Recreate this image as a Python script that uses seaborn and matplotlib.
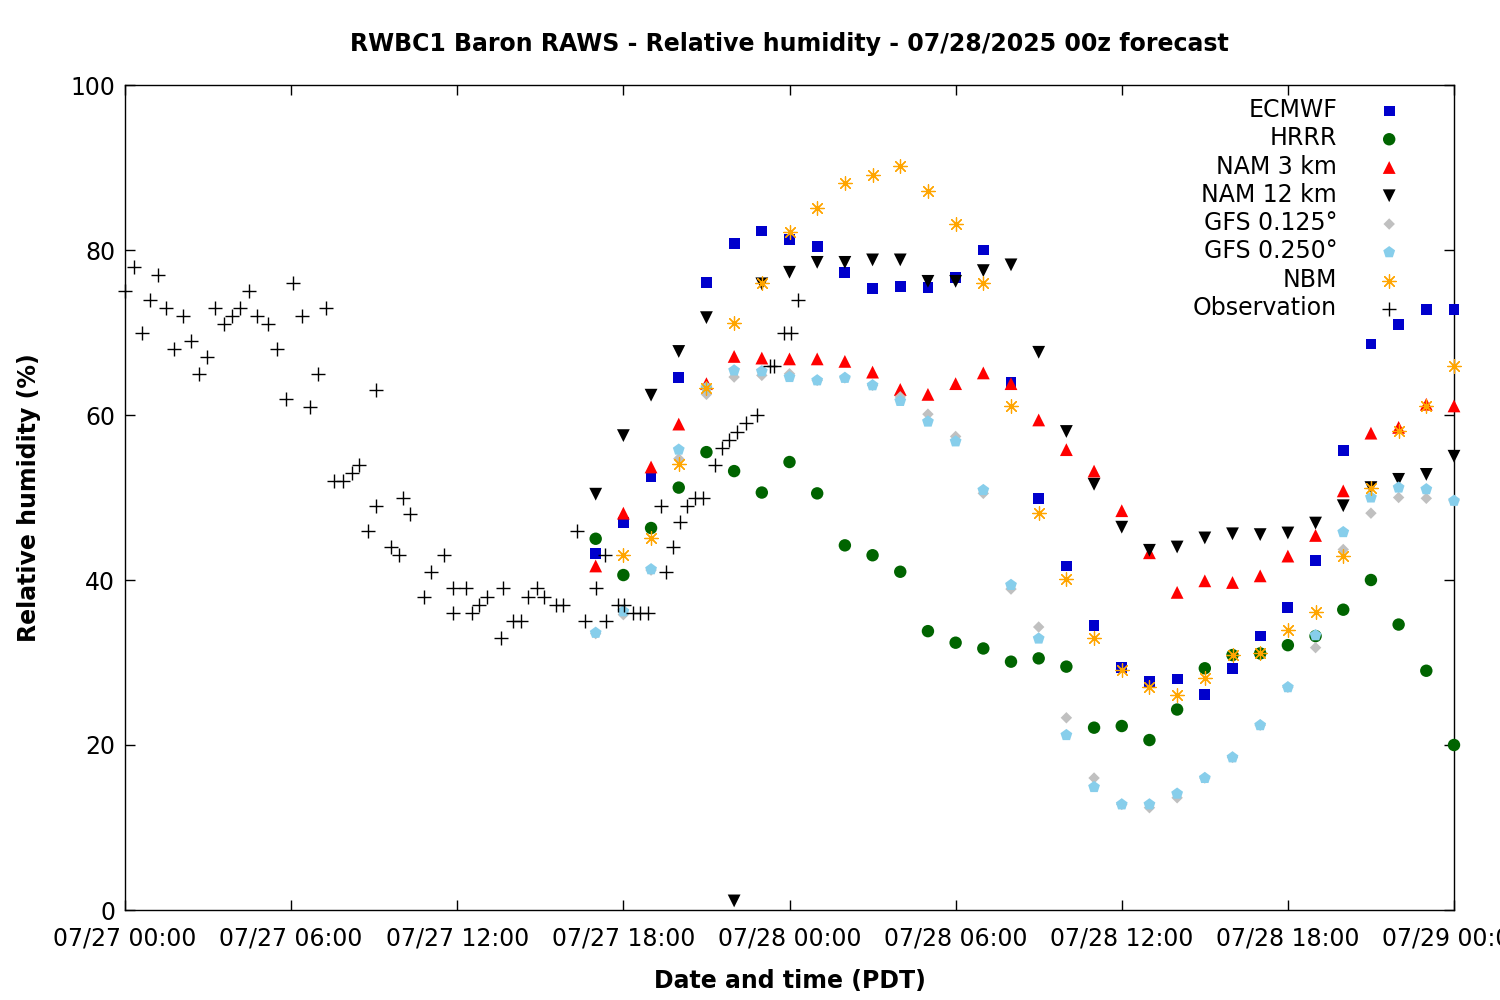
import numpy as np
import pandas as pd
import matplotlib
matplotlib.use("Agg")
import matplotlib.pyplot as plt
import matplotlib.dates as mdates
import seaborn as sns

# ---------------- data ----------------
start = pd.Timestamp("2025-07-27 00:00")
model_hours = list(range(17, 49))          # hours after 07/27 00:00 PDT
nbm_hours = list(range(18, 49))

ecmwf = [43.2, 47.0, 52.5, 64.5, 76.1, 80.8, 82.3, 81.3, 80.4, 77.3, 75.3, 75.6,
         75.5, 76.7, 80.0, 63.9, 49.9, 41.7, 34.5, 29.4, 27.7, 28.0, 26.1, 29.3,
         33.2, 36.7, 42.4, 55.7, 68.6, 71.0, 72.8, 72.8]
hrrr = [45.0, 40.6, 46.3, 51.2, 55.5, 53.2, 50.6, 54.3, 50.5, 44.2, 43.0, 41.0,
        33.8, 32.4, 31.7, 30.1, 30.5, 29.5, 22.1, 22.3, 20.6, 24.3, 29.3, 30.9,
        31.1, 32.1, 33.2, 36.4, 40.0, 34.6, 29.0, 20.0]
nam3 = [41.7, 48.1, 53.7, 58.9, 63.8, 67.1, 66.9, 66.8, 66.8, 66.5, 65.2, 63.1,
        62.5, 63.8, 65.1, 63.8, 59.4, 55.8, 53.2, 48.4, 43.3, 38.5, 39.9, 39.7,
        40.5, 42.9, 45.4, 50.8, 57.8, 58.5, 61.3, 61.1]
nam12 = [50.4, 57.5, 62.4, 67.7, 71.8, 1.1, 75.9, 77.3, 78.5, 78.5, 78.8, 78.8,
         76.2, 76.2, 77.5, 78.2, 67.6, 58.0, 51.6, 46.4, 43.6, 44.0, 45.1, 45.6,
         45.5, 45.7, 46.9, 49.0, 51.2, 52.2, 52.8, 55.0]
gfs0125 = [33.5, 35.8, 41.2, 54.7, 62.5, 64.6, 64.8, 65.0, 64.2, 64.5, 63.6, 62.2,
           60.1, 57.4, 50.5, 38.9, 34.3, 23.3, 16.0, 12.8, 12.4, 13.6, 16.0, 18.5,
           22.4, 27.0, 31.8, 43.7, 48.1, 50.0, 49.9, 49.6]
gfs0250 = [33.6, 36.2, 41.3, 55.8, 63.3, 65.4, 65.3, 64.6, 64.2, 64.5, 63.6, 61.7,
           59.2, 56.8, 50.9, 39.4, 32.9, 21.2, 14.9, 12.8, 12.8, 14.1, 16.0, 18.5,
           22.4, 27.0, 33.3, 45.8, 50.0, 51.2, 51.0, 49.6]
nbm = [43.0, 45.1, 54.1, 63.3, 71.1, 76.0, 82.2, 85.1, 88.1, 89.1, 90.2, 87.1,
       83.2, 76.0, 61.1, 48.1, 40.1, 33.0, 29.1, 27.0, 26.1, 28.1, 30.9, 31.1,
       34.0, 36.1, 42.9, 51.1, 58.1, 61.1, 66.0]

obs_hours = [0.0, 0.32, 0.61, 0.90, 1.20, 1.49, 1.78, 2.08, 2.38, 2.67, 2.96, 3.26,
             3.58, 3.88, 4.16, 4.49, 4.77, 5.18, 5.49, 5.81, 6.08, 6.39, 6.68, 6.97,
             7.27, 7.55, 7.86, 8.19, 8.46, 8.76, 9.05, 9.06, 9.61, 9.91, 10.05, 10.29,
             10.81, 11.06, 11.53, 11.83, 11.83, 12.30, 12.54, 12.79, 13.08, 13.58, 13.66,
             14.02, 14.32, 14.57, 14.87, 15.14, 15.56, 15.83, 16.33, 16.62, 17.02, 17.33,
             17.38, 17.79, 18.03, 18.36, 18.60, 18.88, 19.36, 19.55, 19.80, 20.04, 20.31,
             20.58, 20.88, 21.31, 21.55, 21.81, 22.09, 22.42, 22.81, 23.29, 23.44, 23.81,
             24.07, 24.32]
obs = [75, 78, 70, 74, 77, 73, 68, 72, 69, 65, 67, 73,
       71, 72, 73, 75, 72, 71, 68, 62, 76, 72, 61, 65,
       73, 52, 52, 53, 54, 46, 49, 63, 44, 43, 50, 48,
       38, 41, 43, 39, 36, 39, 36, 37, 38, 33, 39,
       35, 35, 38, 39, 38, 37, 37, 46, 35, 39, 43,
       35, 37, 37, 36, 36, 36, 49, 41, 44, 47, 49,
       50, 50, 54, 56, 57, 58, 59, 60, 66, 66, 70,
       70, 74]

x_tick_hours = [0, 6, 12, 18, 24, 30, 36, 42, 48]
y_ticks = [0, 20, 40, 60, 80, 100]

title = "RWBC1 Baron RAWS - Relative humidity - 07/28/2025 00z forecast"
xlabel = "Date and time (PDT)"
ylabel = "Relative humidity (%)"


def to_time(hours):
    return start + pd.to_timedelta(np.asarray(hours, dtype=float), unit="h")


series = [
    ("ECMWF", model_hours, ecmwf, "s", "#0000cc", 60, 0),
    ("HRRR", model_hours, hrrr, "o", "#006400", 80, 0),
    ("NAM 3 km", model_hours, nam3, "^", "#ff0000", 85, 0),
    ("NAM 12 km", model_hours, nam12, "v", "#000000", 85, 0),
    ("GFS 0.125°", model_hours, gfs0125, "D", "#c0c0c0", 34, 0),
    ("GFS 0.250°", model_hours, gfs0250, "p", "#87ceeb", 80, 0),
    ("NBM", nbm_hours, nbm, (8, 2, 0), "#ffa500", 95, 0.9),
    ("Observation", obs_hours, obs, "+", "#000000", 110, 1.0),
]

# ---------------- figure ----------------
plt.rcParams["font.family"] = ["DejaVu Sans"]
fig = plt.figure(figsize=(15, 10), dpi=100)
ax = fig.add_axes([125 / 1500, 1 - 910 / 1000, (1454 - 125) / 1500, (910 - 85) / 1000])

for name, hrs, vals, mk, col, sz, lw in series:
    df = pd.DataFrame({"time": to_time(hrs), "value": vals})
    kw = dict(data=df, x="time", y="value", marker=mk, s=sz, ax=ax, label=name,
              zorder=3, clip_on=False)
    if lw:
        kw.update(color=col, linewidth=lw)
    else:
        kw.update(color=col, linewidth=0, edgecolor="none")
    sns.scatterplot(**kw)

ax.set_xlim(to_time([0])[0], to_time([48])[0])
ax.set_ylim(0, 100)
ax.set_xticks(to_time(x_tick_hours))
ax.xaxis.set_major_formatter(mdates.DateFormatter("%m/%d %H:%M"))
ax.set_yticks(y_ticks)
ax.tick_params(axis="both", which="major", direction="in", length=7, width=1,
               top=True, right=True, labelsize=17, colors="black")
ax.tick_params(axis="x", pad=12)
ax.tick_params(axis="y", pad=7)
for sp in ax.spines.values():
    sp.set_linewidth(1.0)
    sp.set_color("black")

ax.set_title(title, fontsize=17, fontweight="bold", pad=24.5)
ax.set_xlabel(xlabel, fontsize=17, fontweight="bold")
ax.set_ylabel(ylabel, fontsize=17, fontweight="bold")
ax.xaxis.set_label_coords(0.5, -0.071)
ax.yaxis.set_label_coords(-0.063, 0.5)

leg = ax.legend(loc="upper right", bbox_to_anchor=(0.969, 0.984), markerfirst=False,
                frameon=False, fontsize=17, borderpad=0, borderaxespad=0,
                handletextpad=1.2, handlelength=2.0, labelspacing=0.18,
                scatterpoints=1)

fig.savefig("out.png", dpi=100)
